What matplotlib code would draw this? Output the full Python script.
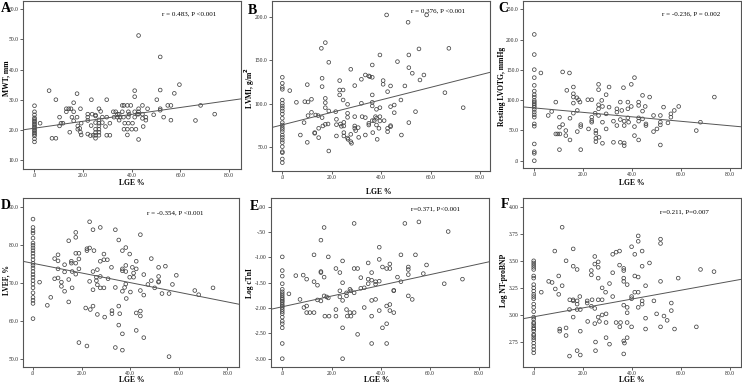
import numpy as np
import matplotlib
matplotlib.use("Agg")
import matplotlib.pyplot as plt

plt.rcParams["font.family"] = ["Liberation Serif", "DejaVu Serif"]

W, H = 742, 384

# ---------------- data ----------------
# A: maximal wall thickness
lge_a = [6, 2.3, 7.2, 8.8, 8.8, 10.3, 10.3, 10.9, 11.7, 13.1, 14.1, 13.1, 15, 14.5, 15.4, 16.1,
         16.1, 16.1, 17.5, 17.5, 17.8, 17.8, 18.6, 18.9, 19.2, 19.2, 18.9, 21.9, 21.9, 21.9, 21.9,
         23, 23.4, 23.7, 23.3, 24.1, 25.1, 25.1, 25.1, 25.1, 25.1, 25.1, 25.1, 26.5, 26.5, 26.5,
         26.5, 26.5, 26.5, 26.5, 27.2, 27.9, 27.9, 29.7, 29.7, 29.7, 31, 31, 29.2, 32.4, 33.4, 32.7,
         34.1, 34.1, 34.8, 34.8, 35.2, 36.1, 36.1, 36.6, 37.1, 36.8, 36.8, 38.2, 38.6, 38.2, 38.2,
         38.6, 38.9, 38.6, 39.6, 40, 40.3, 41.2, 41.2, 41.7, 42.3, 41.2, 41.2, 42.8, 42.8, 42.8,
         42.8, 42.8, 44.4, 44.4, 44.4, 44.7, 45.8, 45.8, 46.5, 49, 50.3, 51.7, 51.7, 51.7, 51.7,
         53.1, 54.8, 56.1, 56.1, 57.5, 59.6, 66.2, 68.3, 74.1]
mwt = [33, 22.2, 17.2, 17.2, 30, 24.2, 21.3, 22.2, 22.2, 27, 27, 26, 27, 19.2, 24.2, 26,
       29, 23, 32, 24.2, 21.3, 20.2, 20.5, 19.2, 18.3, 22.2, 27, 25.2, 24.2, 23.1, 18.6,
       18.1, 30, 25.2, 21.4, 18.2, 18.2, 17.2, 19.1, 20.2, 22.4, 24.6, 24.9, 27, 23.3, 22.2,
       21.3, 20.2, 19.2, 18.2, 26.1, 24.2, 22.4, 30, 24.2, 18.2, 18.2, 22.2, 21.1, 26, 26, 24.2,
       25.2, 24.2, 25.2, 23.2, 24.2, 28.1, 26, 24.2, 22.2, 20.2, 28.1, 28.1, 26, 20.2, 18.3,
       24.2, 25.2, 22.2, 28.1, 20.2, 22.2, 24.2, 26, 20.2, 25.2, 33, 31, 51.3, 27, 26,
       25.2, 16.8, 28.1, 25.2, 23.8, 21.1, 23.2, 24.2, 27, 25, 30, 44.2, 33.2, 27, 26.5,
       24.2, 28.1, 28.1, 23.2, 32.1, 35, 23.1, 28.1, 25.2]
mwt_lge0 = [28, 26, 25, 24, 23.5, 23, 22.5, 22, 21.5, 21, 20.5, 20, 19.5, 19, 18.5, 18, 17, 16]

# B: LV mass index
lge_b = [3, 5.7, 7.3, 8.8, 9.1, 10.1, 10.1, 10.4, 10.4, 11.8, 11.8, 13.1, 13.1, 13.5, 14.5, 14.7,
         14.7, 15.8, 16.1, 16.1, 16.1, 16.4, 17.4, 17.4, 17.4, 17.4, 17.4, 18.5, 18.8, 18.8, 18.8,
         21.6, 21.9, 21.9, 21.9, 23.2, 23.2, 23.2, 23.5, 23.9, 24.6, 24.6, 24.9, 24.9, 24.9, 24.9,
         26.4, 26.4, 26.4, 26.4, 26.6, 27.7, 27.7, 27.7, 28, 29.3, 29.3, 29.3, 29.3, 29.7, 30.7,
         30.9, 32, 32, 32.3, 33.6, 33.6, 33.6, 35, 35, 35, 35.4, 36.4, 36.4, 36.4, 36.4, 36.4,
         36.4, 36.6, 37.2, 37.7, 38.1, 38.1, 38.1, 38.4, 39.1, 39.5, 39.5, 39.5, 39.5, 40.8, 40.8,
         41.2, 42.2, 42.6, 42.6, 42.6, 43.8, 43.8, 43.8, 43.8, 45.3, 45.3, 46.6, 48, 48.2, 49.6,
         50.9, 51.2, 51.2, 51.2, 52.6, 53.9, 55.3, 55.7, 57.3, 58.4, 65.8, 67.4, 73.2]
lvmi = [115, 101.4, 63.5, 77.9, 102.2, 55, 121.9, 86, 101.8, 104.9, 89.8, 66.3, 65.5, 86.7, 86, 71.3,
        60.5, 164, 119.6, 129.3, 83.7, 74, 170.6, 106, 101, 95.2, 75.9, 76.3, 147.8, 91.4, 45,
        90.6, 62.4, 81.7, 75.5, 126.6, 115.7, 110, 76.3, 73.6, 115.7, 104.1, 78.2, 74, 66.3, 62.4,
        99.1, 88.7, 84, 60, 58.5, 139.7, 64.3, 55.8, 53.9, 120.8, 84.8, 74, 71.3, 68.6, 72.1,
        60.8, 128.1, 100.3, 84.8, 133.1, 83.7, 63.5, 132, 77.1, 75.1, 131.2, 144.7, 130.4, 110, 101.4, 97.2,
        80.2, 66.3, 80.2, 84.8, 93.3, 82.9, 75.1, 58.5, 71.3, 156.3, 95.2, 84.8, 79.8, 126.6, 122.3,
        80.2, 202.7, 113.8, 71.3, 67.4, 120.4, 96.4, 74.4, 73.2, 98.3, 89.4, 148.6, 104.1, 63.5, 120.4,
        194.2, 156.3, 141.6, 77.9, 135.1, 90.6, 163.3, 127.3, 133.1, 202.7, 112.6, 164, 95.2]
lvmi_lge0 = [130.4, 123.5, 118.8, 116.5, 104.1, 100.3, 97.2, 94.5, 91.4, 87.9, 82.9, 77.9, 75.1,
             72.4, 70.1, 67.4, 63.5, 60.8, 57.7, 54.7, 50, 44.2, 43, 35.7, 31.5]

# C: resting LVOT gradient
lge_c = [2.7, 5.7, 7.1, 8.8, 8.8, 9.6, 10.3, 10.3, 10.3, 10.5, 11.6, 11.6, 12.9, 12.9, 13.3, 14.4,
         14.6, 14.6, 16, 16, 16, 16, 16, 17.4, 17.6, 17.6, 18.1, 18.7, 19, 19, 19, 21.9, 22.2,
         23.5, 23.5, 23.5, 23.5, 24.9, 25.2, 25.2, 25.2, 25.2, 26.3, 26.3, 26.3, 26.3, 26.3, 26.5,
         27.6, 27.9, 27.9, 27.9, 29.4, 29.4, 29.4, 30.6, 30.6, 32.4, 32.4, 33.8, 33.8, 33.8, 35.2,
         35.2, 35.2, 35.8, 36.5, 36.8, 36.8, 36.8, 36.8, 38.3, 38.3, 38.3, 38.6, 39.7, 39.7, 41,
         41, 41, 42.7, 42.7, 42.7, 42.7, 42.7, 44.3, 44.3, 44.3, 45.4, 45.7, 45.7, 47.2, 48.8,
         48.8, 50.2, 51.6, 51.6, 51.6, 51.6, 52.9, 54.7, 55.9, 55.9, 57.3, 59.1, 66.3, 68, 73.7]
lvotg = [144.9, 74.7, 81.3, 96.8, 44.2, 44.2, 71.9, 55.3, 18.3, 44.2, 59.7, 146.6, 49.8, 41.5, 116.2, 144.9,
         70.2, 34.3, 121.7, 110.6, 105.1, 78.5, 95.1, 104, 83, 48.1, 100.7, 96.8, 59.7, 56.4, 18.3, 100.7, 52.5,
         100.7, 71.9, 66.4, 63.6, 78.5, 49.8, 45.4, 37.1, 31.5, 126.1, 117.3, 74.7, 85.7, 92.4, 38.7,
         99.6, 89.6, 63.6, 28.8, 109, 77.4, 52.5, 88.5, 121.7, 30.4, 65.3, 80.2, 85.7, 58.1, 96.8,
         68, 30.4, 83, 120.6, 65.3, 58.1, 29.3, 24.9, 96.8, 85.7, 70.8, 63.6, 89.6, 126.1, 137.2,
         56.4, 41.5, 96.8, 91.3, 70.8, 65.3, 34.3, 107.9, 81.9, 69.1, 89.6, 60.8, 58.1, 105.1, 74.7,
         48.1, 52.5, 74.7, 63.6, 59.2, 26, 88.5, 62.5, 77.4, 71.9, 83, 89.6, 49.8, 63.6, 105.1]
lvotg_lge0 = [208.5, 175.3, 150.4, 137.2, 124.4, 115, 109, 105, 99.6, 96.8, 94, 91.3, 88.5, 84.6,
              80.2, 75.8, 71.9, 60.8, 57, 27.7, 14.9, 12.2, 0]

# D: LV ejection fraction
lge_d = [2.7, 5.9, 7.3, 8.9, 8.9, 10.3, 10.3, 10.3, 10.3, 11.7, 11.7, 13, 13, 13, 14.7, 14.7, 14.7,
         15.8, 15.8, 16.1, 16.1, 17.6, 17.6, 17.6, 17.6, 17.6, 18.9, 18.9, 18.9, 18.9, 21.7, 22.2,
         22.2, 22.2, 23.3, 23.3, 23.3, 23.6, 24.7, 24.7, 24.7, 24.7, 25.1, 26.1, 26.1, 26.5, 26.5,
         26.5, 27.7, 27.7, 27.7, 27.7, 29.2, 29.2, 29.2, 29.5, 30.6, 30.9, 32.3, 32.5, 32.5, 33.9,
         33.9, 33.9, 35.3, 35.3, 35.3, 35.7, 36.8, 36.8, 36.8, 36.8, 36.8, 36.8, 37.7, 38.2, 38.2,
         38.2, 38.2, 38.4, 39.8, 39.8, 40.1, 40.9, 41.4, 41.4, 42.5, 42.5, 42.5, 42.5, 44.2, 44.2,
         44.2, 44.2, 45.6, 45.6, 45.6, 47.3, 48.7, 48.7, 50.1, 51.7, 51.7, 51.7, 51.7, 53.1, 54.5,
         56, 56, 57.4, 59, 66.6, 68.2, 74.1]
lvef = [70.3, 64.2, 66.3, 76.5, 71.2, 77.5, 75.9, 71.4, 73.8, 70.3, 69.2, 74.9, 73, 67.9, 81.2, 71, 65.1,
        75.8, 75.3, 73.1, 68.8, 83.4, 82.1, 77.9, 75.3, 72.4, 77.9, 76.4, 73.8, 54.4, 63.5, 78.6,
        79.1, 53.5, 86.2, 79.3, 70.5, 63.1, 84.1, 73.1, 68.3, 64, 78.6, 71.6, 70.7, 73.6, 69.6,
        61.8, 84.7, 75.8, 71.8, 68.8, 77.7, 76.2, 68.8, 61.1, 76.2, 71.2, 74.2, 62.8, 62, 84.1,
        68.9, 53.1, 81.4, 64, 59, 62, 78.6, 73.8, 73.3, 67.9, 56.7, 52.4, 68.9, 79.4, 74.7,
        73.1, 69.8, 66, 77.7, 71.6, 67.7, 74.2, 72.7, 71.6, 75.8, 73.8, 62.2, 57.6, 82.8, 68.1,
        62.7, 61.4, 72.3, 66.9, 55.7, 69.7, 76.5, 70.7, 68.8, 74.2, 71.8, 70.5, 70.3, 67.3, 74.5,
        67.3, 50.7, 69.7, 72.1, 68.1, 67, 68.8]
lvef_lge0 = [86.9, 84.7, 83.8, 83.2, 81.9, 80.6, 80, 79.3, 78.6, 77.9, 77.1, 76.2, 75.3, 74.7, 74,
             73.1, 72.3, 71.6, 70.7, 69.8, 68.8, 67.5, 66.3, 65.5, 64.7, 60.7]

# E: log cTnI
lge_e = [2.7, 5.5, 7.2, 8.5, 8.8, 9.9, 9.9, 9.9, 11.2, 12.9, 12.9, 12.9, 14.3, 14.3, 15.7, 15.7, 15.7,
         15.7, 17, 17, 17, 17.3, 18, 18.7, 18.7, 19, 21.8, 21.8, 21.8, 23.4, 23.4, 23.4, 24.5, 24.5,
         24.5, 24.5, 24.5, 26.1, 26.1, 26.1, 26.4, 27.5, 27.5, 27.9, 27.9, 29.2, 29.2, 29.2, 29.2,
         30.6, 30.6, 31.9, 31.9, 33.3, 33.3, 34.9, 34.9, 34.9, 36.3, 36.3, 36.3, 36.3, 36.3, 37.9,
         37.9, 37.9, 39.4, 39.4, 39.4, 39.4, 40.7, 40.7, 42.4, 42.4, 42.4, 42.4, 43.7, 43.7, 43.7,
         43.7, 45.3, 45.3, 45.3, 46.8, 48.2, 48.2, 49.8, 51.2, 51.2, 51.2, 51.2, 52.8, 54.1, 55.5,
         57.3, 58.6, 65.8, 67.4, 73.2]
ctni = [-1.72, -1.36, -1.83, -1.35, -1.99, -1.43, -1.96, -2.09, -2.09, -0.95, -1.48, -2.09, -1.55, -1.84,
        -0.66, -1.28, -1.30, -1.86, -0.41, -1.39, -1.76, -2.16, -1.78, -0.99, -1.80, -2.16, -1.22,
        -2.03, -2.16, -1.30, -1.78, -1.66, -1.07, -1.50, -1.85, -2.39, -3.0, -1.70, -1.76, -2.03,
        -2.16, -1.63, -2.09, -1.66, -2.16, -0.33, -1.22, -1.70, -2.09, -1.22, -2.52, -1.40, -1.61,
        -1.60, -1.99, -1.11, -1.43, -1.52, -1.30, -1.45, -1.85, -2.16, -2.70, -1.48, -1.53, -1.83,
        -0.80, -1.04, -1.47, -2.05, -1.19, -2.39, -1.22, -1.96, -2.31, -2.70, -1.13, -1.22, -1.93,
        -2.05, -1.65, -1.66, -2.09, -1.39, -0.95, -1.48, -0.33, -1.19, -1.24, -1.34, -1.76, -1.83,
        -0.95, -0.30, -1.32, -1.15, -1.52, -0.49, -1.43]
ctni_lge0 = [-0.99, -1.26, -1.37, -1.52, -1.63, -1.68, -1.72, -1.76, -1.80, -1.83, -1.86, -1.89,
             -1.93, -1.96, -1.99, -2.03, -2.07, -2.11, -2.18, -2.26, -2.31, -2.39, -2.70, -3.0]

# F: log NT-proBNP
lge_f = [3.1, 6.1, 7.5, 8.6, 8.8, 10.2, 10.2, 10.6, 10.6, 11.6, 11.6, 13.2, 13.2, 13.2, 14.6, 14.6,
         14.7, 16.1, 16.1, 16.1, 16.1, 16.1, 17.7, 17.7, 17.7, 17.7, 17.7, 18.8, 19, 19, 19, 21.8,
         21.8, 22, 23.5, 23.5, 23.5, 23.8, 24.9, 24.9, 24.9, 24.9, 25.2, 25.2, 26.3, 26.3, 26.3,
         26.3, 26.3, 26.8, 27.9, 27.9, 27.9, 29.3, 29.5, 29.5, 29.5, 30.9, 30.9, 32.2, 32.2, 32.2,
         33.6, 33.6, 35, 35, 35.1, 35.4, 36.7, 36.7, 36.7, 36.7, 36.7, 36.7, 36.7, 37, 38.1, 38.1,
         38.1, 38.1, 38.1, 39.9, 39.9, 39.9, 39.9, 41.2, 41.2, 41.2, 42.6, 42.6, 42.6, 42.6, 42.6,
         44.2, 44.2, 44.2, 44.2, 45.6, 45.6, 45.6, 47.2, 49, 50.1, 51.7, 51.7, 51.7, 51.7, 53.1,
         54.4, 56.1, 56.1, 57.4, 58.9, 66.3, 68, 73.5]
ntprobnp = [3.21, 3.31, 3.30, 3.59, 3.24, 3.36, 3.19, 2.87, 2.85, 3.81, 3.27, 3.50, 2.88, 2.81, 3.05, 2.62,
            3.14, 3.61, 3.45, 3.14, 2.98, 3.13, 3.42, 3.13, 3.10, 3.05, 2.67, 3.17, 3.05, 2.85, 2.63, 3.13,
            3.11, 2.94, 3.41, 3.37, 3.08, 3.14, 3.54, 3.47, 3.06, 2.92, 2.75, 2.67, 3.49, 3.44, 3.34,
            3.14, 2.98, 2.94, 3.25, 3.14, 3.00, 3.21, 3.01, 2.93, 2.79, 3.29, 2.73, 3.56, 3.39, 3.17,
            3.58, 2.93, 3.59, 3.46, 2.89, 2.93, 3.43, 3.41, 3.34, 3.31, 3.09, 2.76, 2.64, 2.74, 3.28, 3.07,
            3.02, 2.93, 2.79, 3.63, 3.17, 3.15, 2.89, 3.56, 3.36, 3.21, 3.73, 3.68, 3.35, 3.21, 3.07,
            3.59, 3.45, 3.13, 3.10, 3.27, 2.97, 2.87, 3.48, 3.13, 3.01, 3.70, 3.66, 3.31, 2.89, 2.99,
            2.95, 3.11, 3.04, 2.87, 3.34, 2.89, 3.42, 3.40]
ntprobnp_lge0 = [3.50, 3.48, 3.46, 3.44, 3.42, 3.36, 3.34, 3.28, 3.25, 3.22, 3.19, 3.17, 3.15, 3.10,
                 3.07, 3.03, 2.98, 2.96, 2.93, 2.92, 2.90, 2.88, 2.87, 2.85, 2.82, 2.81, 2.79, 2.77,
                 2.74, 2.71, 2.68, 2.65]

# fitted lines: (intercept, slope)
fit_a = (20.54, 0.1146)
fit_b = (75.3, 0.724)
fit_c = (87.2, -0.368)
fit_d = (75.26, -0.127)
fit_e = (-1.975, 0.01057)
fit_f = (2.983, 0.00409)

letters = ["A", "B", "C", "D", "E", "F"]
ylabels = ["MWT, mm", "LVMI, g/m$^{\\mathbf{2}}$", "Resting LVOTG, mmHg",
           "LVEF, %", "Log cTnI", "Log NT-proBNP"]
stats = ["r = 0.483, P <0.001", "r = 0.376, P <0.001", "r = -0.236, P = 0.002",
         "r = -0.354, P <0.001", "r=0.371, P<0.001", "r=0.211, P=0.007"]
xticks = [0, 20, 40, 60, 80]

panels = [
    (lge_a, mwt, mwt_lge0, fit_a, [10, 20, 30, 40, 50, 60], 1),
    (lge_b, lvmi, lvmi_lge0, fit_b, [50, 100, 150, 200], 1),
    (lge_c, lvotg, lvotg_lge0, fit_c, [0, 50, 100, 150, 200, 250], 1),
    (lge_d, lvef, lvef_lge0, fit_d, [50, 60, 70, 80, 90], 1),
    (lge_e, ctni, ctni_lge0, fit_e, [-3, -2.5, -2, -1.5, -1, -0.5, 0], 2),
    (lge_f, ntprobnp, ntprobnp_lge0, fit_f, [2.75, 3.0, 3.25, 3.5, 3.75, 4.0], 2),
]

# layout in pixels: left, top, right, bottom of each frame
boxes = [(22.7, 0.7, 240.7, 169), (271.7, 0.7, 490, 171), (523.3, 0.7, 741, 168),
         (22.7, 198, 239, 366.7), (270.7, 198, 489.3, 366.7), (522.7, 198, 741, 366.7)]
xlims = [(-4.85, 84.8), (-4.3, 84.05), (-4.5, 84.6), (-4.24, 84.8), (-4.7, 84.1), (-4.48, 84.5)]
ylims = [(7.0, 62.85), (21.8, 219.2), (-12, 264.2), (48.05, 92.45), (-3.158, 0.172), (2.522, 4.08)]
letter_pos = [(0.5, 9), (247.5, 10), (498.5, 9), (0.5, 205.5), (250, 206), (501, 205)]
stat_pos = [(189, 14), (437.7, 10.7), (691, 14.3), (175, 212.7), (436, 209), (684.7, 212.3)]
ylab_pos = [(6.5, 78), (249.5, 88), (502, 86.7), (6, 280), (250, 282.7), (503.5, 280)]
xlab_pos = [(131.7, 183.3), (378.3, 191.5), (632, 183), (131.7, 379.5), (376.7, 379.5), (632, 379.5)]


def spss(v, d):
    s = f"{v:.{d}f}"
    if s.startswith("0."):
        s = s[1:]
    elif s.startswith("-0."):
        s = "-" + s[2:]
    return s


fig = plt.figure(figsize=(W / 100, H / 100), dpi=100)
edge = "#444444"

for i, (xs, ys, y0, fit, yt, dec) in enumerate(panels):
    l, t, r, b = boxes[i]
    ax = fig.add_axes([l / W, 1 - b / H, (r - l) / W, (b - t) / H])
    ax.scatter(xs, ys, s=7, facecolors="none", edgecolors=edge, linewidths=0.55)
    ax.scatter(np.zeros(len(y0)), y0, s=7, facecolors="none", edgecolors=edge, linewidths=0.55)
    xl = np.array(xlims[i])
    ax.plot(xl, fit[0] + fit[1] * xl, color="#555555", lw=0.7)
    ax.set_xlim(*xl)
    ax.set_ylim(*ylims[i])
    ax.set_xticks(xticks)
    ax.set_xticklabels([spss(v, 1) for v in xticks])
    ax.set_yticks(yt)
    ax.set_yticklabels([spss(v, dec) for v in yt])
    ax.tick_params(direction="out", length=2, width=0.5, pad=1.2, labelsize=4.0,
                   colors="#222222")
    for sp in ax.spines.values():
        sp.set_color("#555555")
        sp.set_linewidth(0.8)

    fig.text(letter_pos[i][0] / W, 1 - letter_pos[i][1] / H, letters[i], fontsize=10,
             fontweight="bold", ha="left", va="center")
    fig.text(stat_pos[i][0] / W, 1 - stat_pos[i][1] / H, stats[i], fontsize=5,
             ha="center", va="center")
    fig.text(ylab_pos[i][0] / W, 1 - ylab_pos[i][1] / H, ylabels[i], fontsize=5.5,
             fontweight="bold", rotation=90, ha="center", va="center")
    fig.text(xlab_pos[i][0] / W, 1 - xlab_pos[i][1] / H, "LGE %", fontsize=5.5,
             fontweight="bold", ha="center", va="center")

fig.savefig("out.png", dpi=100)
